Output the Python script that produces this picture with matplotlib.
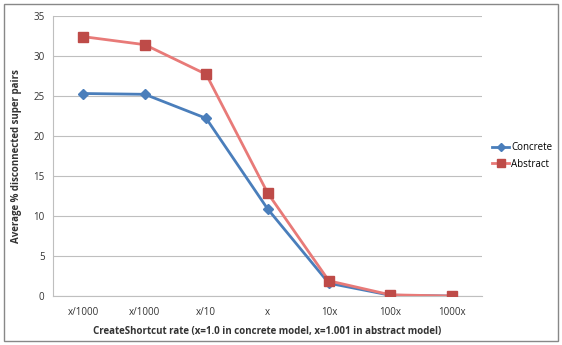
import matplotlib.pyplot as plt
from matplotlib.patches import Rectangle

categories = ["x/1000", "x/1000", "x/10", "x", "10x", "100x", "1000x"]
concrete = [25.3, 25.2, 22.2, 10.9, 1.6, 0.1, 0.0]
abstract = [32.4, 31.4, 27.7, 12.9, 1.9, 0.15, 0.0]

plt.rcParams['font.family'] = ['Open Sans', 'DejaVu Sans']

fig = plt.figure(figsize=(5.62, 3.45), dpi=100)
ax = fig.add_axes([0.094, 0.142, 0.764, 0.812])

x = list(range(len(categories)))
ax.plot(x, concrete, color="#4A7EBB", lw=2, marker="D", ms=5,
        mfc="#4A7EBB", mec="#4A7EBB", label="Concrete", zorder=3)
ax.plot(x, abstract, color="#E87A78", lw=2, marker="s", ms=7,
        mfc="#BE4B48", mec="#BE4B48", label="Abstract", zorder=3)

ax.set_xlim(-0.5, len(categories) - 0.5)
ax.set_ylim(0, 35)
ax.set_yticks(range(0, 36, 5))
ax.set_xticks(x)
ax.set_xticklabels(categories)
ax.tick_params(axis='both', length=0, labelsize=7, colors="#333333", pad=8)
ax.tick_params(axis='y', pad=6)
ax.grid(axis='y', color="#BFBFBF", lw=0.8)
ax.set_axisbelow(True)
for s in ["top", "right"]:
    ax.spines[s].set_visible(False)
ax.spines["left"].set_color("#BFBFBF")
ax.spines["bottom"].set_color("#BFBFBF")

ax.set_xlabel("CreateShortcut rate (x=1.0 in concrete model, x=1.001 in abstract model)",
              fontsize=7, fontweight="bold", color="#333333", labelpad=6)
ax.set_ylabel("Average % disconnected super pairs", fontsize=7,
              fontweight="bold", color="#333333", labelpad=8)

ax.legend(loc="center left", bbox_to_anchor=(1.0, 0.5), frameon=False,
          fontsize=7, handlelength=1.8, handletextpad=0.15, labelspacing=0.6,
          markerscale=0.75, borderaxespad=0.6)

fig.patches.append(Rectangle((0.008, 0.012), 0.984, 0.976, transform=fig.transFigure,
                             fill=False, ec="#888888", lw=1))

fig.savefig("out.png", dpi=100)
